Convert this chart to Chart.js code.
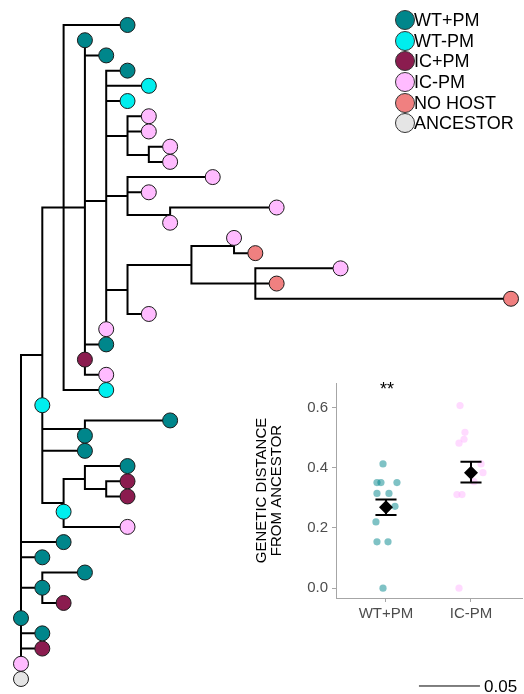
<!DOCTYPE html>
<html>
<head>
<meta charset="utf-8">
<script src="https://cdn.jsdelivr.net/npm/chart.js@4.4.0/dist/chart.umd.min.js"></script>
<style>
  html, body { margin: 0; padding: 0; background: #fff; }
  #wrap { position: relative; width: 524px; height: 694px; overflow: hidden;
          font-family: "Liberation Sans", Arial, sans-serif; }
  #treeChart { position: absolute; left: 0; top: 0; }
  #distChart { position: absolute; left: 240px; top: 370px; }
  #legend { position: absolute; left: 395px; top: 10px; }
  .item { display: flex; align-items: center; height: 20.6px; }
  .dot { width: 20px; height: 20px; border-radius: 50%; border: 1px solid #333;
         box-sizing: border-box; flex: none; }
  .lbl { font-size: 18px; line-height: 18px; color: #000; margin-left: -1px; white-space: nowrap; }
  #stars { position: absolute; left: 362px; top: 380px; width: 50px; text-align: center;
           font-size: 18px; line-height: 18px; }
  #scaleLabel { position: absolute; left: 484px; top: 678px; font-size: 17px; line-height: 17px; }
</style>
</head>
<body>
<div id="wrap">
  <canvas id="treeChart" width="524" height="694" style="width:524px;height:694px"></canvas>
  <canvas id="distChart" width="284" height="260" style="width:284px;height:260px"></canvas>
  <div id="legend"></div>
  <div id="stars">**</div>
  <div id="scaleLabel">0.05</div>
</div>
<script>
const GROUPS = ["WT+PM", "WT-PM", "IC+PM", "IC-PM", "NO HOST", "ANCESTOR"];
const GROUP_COLORS = ["#00868B", "#00EEEE", "#8B1C4F", "#FFBBFF", "#F08080", "#E5E5E5"];

// tree nodes: [depth (substitution steps), row, parent index, group (-1 = plain node)]
const TREE_NODES = [
  [0, 43, -1, 5],     // 0 ancestor (root)
  [0, 42, 0, 3],
  [1, 41, 0, 2],
  [1, 40, 0, 0],
  [0, 39, 0, 0],
  [1, 37, 0, 0],      // 5
  [3, 36, 5, 0],
  [2, 38, 5, 2],
  [1, 35, 0, 0],
  [2, 34, 0, 0],
  [1, 21.7, 0, -1],   // 10
  [2, 12, 10, -1],
  [5, 0, 11, 0],
  [3, 12, 11, -1],
  [4, 24, 11, 1],
  [3, 1, 13, 0],      // 15
  [4, 2, 13, 0],
  [4, 11.57, 13, -1],
  [4, 21, 13, 0],
  [3, 22, 13, 2],
  [4, 23, 19, 3],     // 20
  [5, 3, 17, 0],
  [6, 4, 17, 1],
  [5, 5, 17, 1],
  [5, 7.3, 17, -1],
  [5, 11.24, 17, -1], // 25
  [5, 17.42, 17, -1],
  [4, 20, 17, 3],
  [6, 6, 24, 3],
  [6, 7, 24, 3],
  [6, 8.55, 24, -1],  // 30
  [7, 8, 30, 3],
  [7, 9, 30, 3],
  [9, 10, 25, 3],
  [6, 11, 25, 3],
  [7, 12.5, 25, -1],  // 35
  [12, 12, 35, 3],
  [7, 13, 35, 3],
  [8, 15.78, 26, -1],
  [6, 19, 26, 3],
  [10, 14.53, 38, -1], // 40
  [11, 17, 38, -1],
  [10, 14, 40, 3],
  [11, 15, 40, 4],
  [15, 16, 41, 3],
  [12, 17, 41, 4],    // 45
  [23, 18, 41, 4],
  [1, 25, 10, 1],
  [3, 26.56, 47, -1],
  [3, 28, 47, 0],
  [2, 31.43, 47, -1], // 50
  [7, 26, 48, 0],
  [3, 27, 48, 0],
  [3, 29.85, 50, -1],
  [2, 32, 50, 1],
  [5, 33, 54, 3],     // 55
  [5, 29, 53, 0],
  [4, 30.5, 53, -1],
  [5, 30, 57, 2],
  [5, 31, 57, 2]
];
const BRANCH_STEP = 0.01746;   // genetic distance per step
const SCALE_BAR = 0.05;
const SCALE_BAR_AT = [18.68, 43.46];

// inset: genetic distance from ancestor
const DIST_CATS = ["WT+PM", "IC-PM"];
const WT_DIST   = [0.413, 0.351, 0.351, 0.351, 0.315, 0.315, 0.272, 0.220, 0.154, 0.154, 0.0];
const WT_JITTER = [-0.035, -0.106, -0.059, 0.129, -0.106, 0.035, 0.106, -0.118, -0.106, 0.024, -0.035];
const IC_DIST   = [0.607, 0.518, 0.495, 0.482, 0.413, 0.384, 0.354, 0.311, 0.311, 0.0];
const IC_JITTER = [-0.129, -0.071, -0.082, -0.141, 0.118, 0.141, 0.035, -0.165, -0.106, -0.141];
const MEANS   = [0.269, 0.384];
const SE_LOW  = [0.243, 0.351];
const SE_HIGH = [0.295, 0.420];
const Y_TICKS = [0, 0.2, 0.4, 0.6];

Chart.defaults.font.family = '"Liberation Sans", Arial, sans-serif';

// ====== Legend ======
const legendDiv = document.getElementById("legend");
GROUPS.forEach((g, i) => {
  legendDiv.innerHTML += `<div class="item"><span class="dot" style="background:${GROUP_COLORS[i]}"></span><span class="lbl">${g}</span></div>`;
});

// ====== Tree ======
const edgePoints = [];
TREE_NODES.forEach(([x, y, p]) => {
  if (p < 0) return;
  const [px, py] = TREE_NODES[p];
  edgePoints.push({ x: px, y: py }, { x: px, y: y }, { x: x, y: y }, { x: x, y: null });
});

const nodeSets = GROUPS.map((g, gi) => ({
  label: g,
  data: TREE_NODES.filter(n => n[3] === gi).map(n => ({ x: n[0], y: n[1] })),
  showLine: false,
  pointRadius: 7.5,
  pointBackgroundColor: GROUP_COLORS[gi],
  pointBorderColor: "#1a1a1a",
  pointBorderWidth: 1,
  clip: false,
  order: 1
}));

new Chart(document.getElementById("treeChart"), {
  type: "line",
  data: {
    datasets: [
      {
        label: "branches",
        data: edgePoints,
        borderColor: "#000",
        borderWidth: 2,
        pointRadius: 0,
        spanGaps: false,
        borderCapStyle: "square",
        borderJoinStyle: "miter",
        clip: false,
        order: 3
      },
      {
        label: "scale",
        data: [
          { x: SCALE_BAR_AT[0], y: SCALE_BAR_AT[1] },
          { x: SCALE_BAR_AT[0] + SCALE_BAR / BRANCH_STEP, y: SCALE_BAR_AT[1] }
        ],
        borderColor: "#000",
        borderWidth: 1,
        pointRadius: 0,
        clip: false,
        order: 3
      },
      ...nodeSets
    ]
  },
  options: {
    responsive: false,
    animation: false,
    events: [],
    layout: { padding: 0, autoPadding: false },
    plugins: { legend: { display: false }, tooltip: { enabled: false } },
    scales: {
      x: { type: "linear", display: false, min: -0.9857, max: 23.611 },
      y: { type: "linear", display: false, reverse: true, min: -1.6437, max: 43.987 }
    }
  }
});

// ====== Inset ======
const errPoints = [];
MEANS.forEach((m, i) => {
  const c = i + 1;
  errPoints.push(
    { x: c, y: SE_LOW[i] }, { x: c, y: SE_HIGH[i] }, { x: c, y: null },
    { x: c - 0.124, y: SE_HIGH[i] }, { x: c + 0.124, y: SE_HIGH[i] }, { x: c, y: null },
    { x: c - 0.124, y: SE_LOW[i] }, { x: c + 0.124, y: SE_LOW[i] }, { x: c, y: null }
  );
});

new Chart(document.getElementById("distChart"), {
  type: "line",
  data: {
    datasets: [
      {
        label: "WT+PM",
        data: WT_DIST.map((v, i) => ({ x: 1 + WT_JITTER[i], y: v })),
        showLine: false,
        pointRadius: 3.6,
        pointBorderWidth: 0,
        pointBackgroundColor: "rgba(0,134,139,0.5)",
        order: 3
      },
      {
        label: "IC-PM",
        data: IC_DIST.map((v, i) => ({ x: 2 + IC_JITTER[i], y: v })),
        showLine: false,
        pointRadius: 3.6,
        pointBorderWidth: 0,
        pointBackgroundColor: "rgba(255,187,255,0.55)",
        order: 3
      },
      {
        label: "se",
        data: errPoints,
        borderColor: "#000",
        borderWidth: 2,
        pointRadius: 0,
        spanGaps: false,
        order: 2
      },
      {
        label: "mean",
        data: MEANS.map((m, i) => ({ x: i + 1, y: m })),
        showLine: false,
        pointStyle: "rectRot",
        pointRadius: 7,
        pointBorderWidth: 0,
        pointBackgroundColor: "#000",
        order: 1
      }
    ]
  },
  options: {
    responsive: false,
    animation: false,
    events: [],
    layout: { padding: { top: 10, right: 2, left: 0, bottom: 0 }, autoPadding: false },
    plugins: { legend: { display: false }, tooltip: { enabled: false } },
    scales: {
      x: {
        type: "linear",
        min: 0.412,
        max: 2.6,
        afterFit: s => { s.height = 32; },
        afterBuildTicks: s => { s.ticks = [1, 2].map(v => ({ value: v })); },
        ticks: {
          color: "#4d4d4d",
          font: { size: 15 },
          padding: 3,
          maxRotation: 0,
          callback: v => DIST_CATS[Math.round(v) - 1]
        },
        grid: { drawOnChartArea: false, drawTicks: true, tickLength: 4, color: "#a6a6a6" },
        border: { display: true, color: "#a6a6a6", width: 1 }
      },
      y: {
        type: "linear",
        min: -0.0328,
        max: 0.682,
        afterFit: s => { s.width = 96; },
        afterBuildTicks: s => { s.ticks = Y_TICKS.map(v => ({ value: v })); },
        ticks: {
          color: "#4d4d4d",
          font: { size: 15 },
          padding: 4,
          callback: v => v.toFixed(1)
        },
        grid: { drawOnChartArea: false, drawTicks: true, tickLength: 4, color: "#a6a6a6" },
        border: { display: true, color: "#a6a6a6", width: 1 },
        title: {
          display: true,
          text: ["GENETIC DISTANCE", "FROM ANCESTOR"],
          color: "#000",
          font: { size: 15, lineHeight: 1 },
          padding: { top: 14.5, bottom: 0 }
        }
      }
    }
  }
});
</script>
</body>
</html>
